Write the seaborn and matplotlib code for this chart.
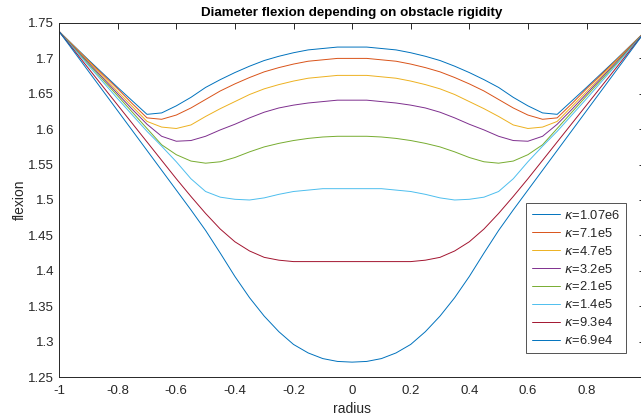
import matplotlib
matplotlib.use("Agg")
import matplotlib.pyplot as plt
import pandas as pd
import seaborn as sns

# Radius positions along the diameter
radius = [-1, -0.9, -0.8, -0.75, -0.7, -0.65, -0.6, -0.55, -0.5, -0.45, -0.4, -0.35,
          -0.3, -0.25, -0.2, -0.15, -0.1, -0.05, 0, 0.05, 0.1, 0.15, 0.2, 0.25, 0.3,
          0.35, 0.4, 0.45, 0.5, 0.55, 0.6, 0.65, 0.7, 0.75, 0.8, 0.9, 1]

# Flexion for each obstacle rigidity
flex_107e6 = [1.738, 1.698, 1.659, 1.640, 1.621, 1.623, 1.633, 1.645, 1.659, 1.670, 1.680, 1.689,
              1.697, 1.703, 1.708, 1.712, 1.714, 1.716, 1.716, 1.716, 1.714, 1.712, 1.708, 1.703,
              1.697, 1.689, 1.680, 1.670, 1.659, 1.645, 1.633, 1.623, 1.621, 1.640, 1.659, 1.698, 1.738]
flex_71e5 = [1.738, 1.697, 1.657, 1.636, 1.616, 1.614, 1.620, 1.630, 1.642, 1.654, 1.664, 1.673,
             1.681, 1.687, 1.692, 1.696, 1.698, 1.700, 1.700, 1.700, 1.698, 1.696, 1.692, 1.687,
             1.681, 1.673, 1.664, 1.654, 1.642, 1.630, 1.620, 1.614, 1.616, 1.636, 1.657, 1.697, 1.738]
flex_47e5 = [1.738, 1.696, 1.653, 1.632, 1.611, 1.603, 1.601, 1.606, 1.618, 1.629, 1.639, 1.649,
             1.657, 1.663, 1.668, 1.672, 1.674, 1.676, 1.676, 1.676, 1.674, 1.672, 1.668, 1.663,
             1.657, 1.649, 1.639, 1.629, 1.618, 1.606, 1.601, 1.603, 1.611, 1.632, 1.653, 1.696, 1.738]
flex_32e5 = [1.738, 1.694, 1.650, 1.628, 1.607, 1.590, 1.583, 1.584, 1.590, 1.599, 1.607, 1.616,
             1.624, 1.630, 1.634, 1.637, 1.639, 1.641, 1.641, 1.641, 1.639, 1.637, 1.634, 1.630,
             1.624, 1.616, 1.607, 1.599, 1.590, 1.584, 1.583, 1.590, 1.607, 1.628, 1.650, 1.694, 1.738]
flex_21e5 = [1.738, 1.692, 1.647, 1.624, 1.601, 1.578, 1.564, 1.555, 1.552, 1.554, 1.560, 1.568,
             1.575, 1.580, 1.584, 1.587, 1.589, 1.590, 1.590, 1.590, 1.589, 1.587, 1.584, 1.580,
             1.575, 1.568, 1.560, 1.554, 1.552, 1.555, 1.564, 1.578, 1.601, 1.624, 1.647, 1.692, 1.738]
flex_14e5 = [1.738, 1.690, 1.643, 1.620, 1.597, 1.576, 1.554, 1.530, 1.512, 1.504, 1.501, 1.500,
             1.503, 1.508, 1.512, 1.514, 1.516, 1.516, 1.516, 1.516, 1.516, 1.514, 1.512, 1.508,
             1.503, 1.500, 1.501, 1.504, 1.512, 1.530, 1.554, 1.576, 1.597, 1.620, 1.643, 1.690, 1.738]
flex_93e4 = [1.738, 1.686, 1.634, 1.608, 1.582, 1.556, 1.530, 1.505, 1.481, 1.459, 1.441, 1.428,
             1.419, 1.415, 1.413, 1.413, 1.413, 1.413, 1.413, 1.413, 1.413, 1.413, 1.413, 1.415,
             1.419, 1.428, 1.441, 1.459, 1.481, 1.505, 1.530, 1.556, 1.582, 1.608, 1.634, 1.686, 1.738]
flex_69e4 = [1.738, 1.682, 1.626, 1.598, 1.570, 1.542, 1.514, 1.486, 1.457, 1.425, 1.392, 1.362,
             1.336, 1.314, 1.296, 1.284, 1.276, 1.272, 1.271, 1.272, 1.276, 1.284, 1.296, 1.314,
             1.336, 1.362, 1.392, 1.425, 1.457, 1.486, 1.514, 1.542, 1.570, 1.598, 1.626, 1.682, 1.738]

labels = [r"$\kappa$=1.07e6", r"$\kappa$=7.1e5", r"$\kappa$=4.7e5", r"$\kappa$=3.2e5",
          r"$\kappa$=2.1e5", r"$\kappa$=1.4e5", r"$\kappa$=9.3e4", r"$\kappa$=6.9e4"]
series = [flex_107e6, flex_71e5, flex_47e5, flex_32e5, flex_21e5, flex_14e5, flex_93e4, flex_69e4]

# MATLAB default line colours (the 8th wraps around)
colors = ["#0072BD", "#D95319", "#EDB120", "#7E2F8E", "#77AC30", "#4DBEEE", "#A2142F", "#0072BD"]

x_ticks = [-1, -0.8, -0.6, -0.4, -0.2, 0, 0.2, 0.4, 0.6, 0.8, 1]
x_tick_labels = ["-1", "-0.8", "-0.6", "-0.4", "-0.2", "0", "0.2", "0.4", "0.6", "0.8", ""]
y_ticks = [1.25, 1.3, 1.35, 1.4, 1.45, 1.5, 1.55, 1.6, 1.65, 1.7, 1.75]
y_tick_labels = ["1.25", "1.3", "1.35", "1.4", "1.45", "1.5", "1.55", "1.6", "1.65", "1.7", "1.75"]


def build_frame():
    rows = []
    for label, values in zip(labels, series):
        for r, f in zip(radius, values):
            rows.append([r, f, label])
    return pd.DataFrame(rows, columns=["radius", "flexion", "kappa"])


def main():
    df = build_frame()

    sns.set_style("white")
    plt.rcParams["font.family"] = ["Liberation Sans", "DejaVu Sans"]
    plt.rcParams["mathtext.fontset"] = "dejavusans"
    dark = "#262626"

    fig = plt.figure(figsize=(6.41, 4.19), dpi=100)
    # axes runs a few pixels past the right edge, as in the reference
    ax = fig.add_axes([59.1 / 641, 1 - 377 / 419, 586 / 641, 354 / 419])

    sns.lineplot(data=df, x="radius", y="flexion", hue="kappa", hue_order=labels,
                 palette=colors, linewidth=0.7, legend=False, sort=False, ax=ax)

    ax.set_xlim(-1, 1)
    ax.set_ylim(1.25, 1.75)
    ax.set_xticks(x_ticks)
    ax.set_xticklabels(x_tick_labels)
    ax.set_yticks(y_ticks)
    ax.set_yticklabels(y_tick_labels)
    ax.tick_params(direction="in", length=4, width=0.7, colors=dark, labelsize=9.5,
                   top=True, right=True, pad=3.5)
    ax.tick_params(axis="x", pad=6)
    for s in ax.spines.values():
        s.set_color(dark)
        s.set_linewidth(0.7)

    ax.set_title("Diameter flexion depending on obstacle rigidity", fontsize=9.6,
                 fontweight="bold", color="black", pad=5)
    ax.set_xlabel("radius", fontsize=10, color=dark, labelpad=3)
    ax.set_ylabel("flexion", fontsize=10, color=dark, labelpad=1)

    handles = ax.get_lines()[:len(labels)]
    leg = ax.legend(handles, labels, loc="lower right",
                    bbox_to_anchor=(626 / 641, 1 - 353 / 419), bbox_transform=fig.transFigure,
                    borderaxespad=0, fancybox=False, frameon=True, fontsize=9.3,
                    handlelength=2.2, handletextpad=0.3, labelspacing=0.38,
                    borderpad=0.45)
    leg.get_frame().set_edgecolor(dark)
    leg.get_frame().set_linewidth(0.7)

    fig.savefig("out.png", dpi=100)
    plt.close(fig)


if __name__ == "__main__":
    main()
